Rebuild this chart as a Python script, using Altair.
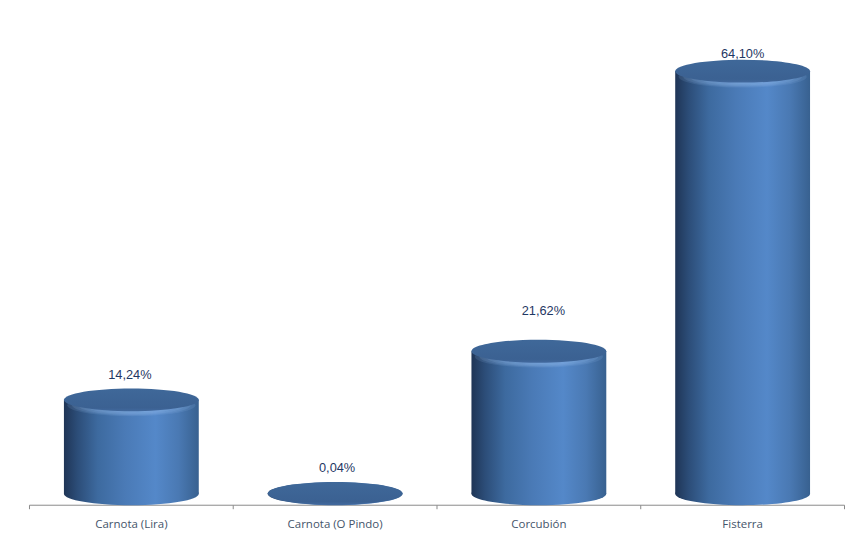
import altair as alt
import pandas as pd

categories = ["Carnota (Lira)", "Carnota (O Pindo)", "Corcubión", "Fisterra"]
values = [14.24, 0.04, 21.62, 64.10]
labels = ["14,24%", "0,04%", "21,62%", "64,10%"]

LABEL_DY = {"Carnota (Lira)": -25, "Carnota (O Pindo)": -25, "Corcubión": -40, "Fisterra": -17}
LABEL_DX = {"Carnota (Lira)": -1, "Carnota (O Pindo)": 2.5, "Corcubión": 5, "Fisterra": 0.5}
ELLIPSE = "M-1,0A1,0.17,0,1,1,1,0A1,0.17,0,1,1,-1,0Z"
SIZE = 135 ** 2
# (scale of the ellipse, downward offset) of each layer of the soft rim highlight
RIM = [(0.95, 5.5), (0.88, 5.5), (0.78, 6), (0.66, 6.5), (0.5, 7), (0.34, 7.5)]
NUDGE = 0.5

df = pd.DataFrame({"cat": categories, "value": values, "label": labels, "zero": [0] * 4})

side = {
    "gradient": "linear", "x1": 0, "x2": 1, "y1": 0, "y2": 0,
    "stops": [
        {"offset": 0, "color": "#1f3556"},
        {"offset": 0.1, "color": "#2c4d78"},
        {"offset": 0.25, "color": "#3d6a9f"},
        {"offset": 0.45, "color": "#4a7ab6"},
        {"offset": 0.68, "color": "#5488c9"},
        {"offset": 0.85, "color": "#4a79b3"},
        {"offset": 1, "color": "#386190"},
    ],
}
face = {
    "gradient": "linear", "x1": 0, "x2": 0, "y1": 0, "y2": 1,
    "stops": [
        {"offset": 0, "color": "#3f6899"},
        {"offset": 0.85, "color": "#3b6192"},
        {"offset": 1, "color": "#42699e"},
    ],
}

x = alt.X(
    "cat:N", sort=categories, title=None,
    scale=alt.Scale(paddingInner=0, paddingOuter=0),
    axis=alt.Axis(
        labelAngle=0, labelFont="Open Sans", labelFontSize=11.5, labelColor="#44546a",
        labelPadding=10, domainColor="#8a8a8a", tickColor="#8a8a8a", tickSize=4,
        tickBand="extent", grid=False,
    ),
)
yscale = alt.Scale(domain=[-1.667, 73.33], nice=False, zero=False)
y = alt.Y("value:Q", scale=yscale, axis=None)
y0 = alt.Y("zero:Q", scale=yscale, axis=None)

bottom = alt.Chart(df).mark_point(shape=ELLIPSE, size=SIZE, filled=True, opacity=1, fill=side, strokeWidth=0, xOffset=NUDGE).encode(x=x, y=y0)
body = alt.Chart(df).mark_bar(size=135, fill=side, strokeWidth=0, xOffset=NUDGE).encode(x=x, y=y, y2=alt.Y2("zero:Q"))
rim = [
    alt.Chart(df[df.value > 1]).mark_point(
        shape=ELLIPSE, size=SIZE * s * s, filled=True, opacity=0.13, fill="#9cc2f2", strokeWidth=0, yOffset=off, xOffset=NUDGE
    ).encode(x=x, y=y)
    for s, off in RIM
]
top = alt.Chart(df).mark_point(shape=ELLIPSE, size=SIZE, filled=True, opacity=1, fill=face, strokeWidth=0, xOffset=NUDGE).encode(x=x, y=y)

layers = [bottom, body, *rim, top]
for c in categories:
    layers.append(
        alt.Chart(df[df.cat == c]).mark_text(
            font="Liberation Sans", fontSize=12.8, color="#1f3864", dy=LABEL_DY[c], dx=LABEL_DX[c]
        ).encode(x=x, y=y, text="label:N")
    )

chart = (
    alt.layer(*layers)
    .properties(width=816, height=495, background="#ffffff", padding={"left": 20, "top": 2, "right": 5, "bottom": 5})
    .configure_view(strokeWidth=0)
)
chart.save("out.html", embed_options={"renderer": "svg", "actions": False})
